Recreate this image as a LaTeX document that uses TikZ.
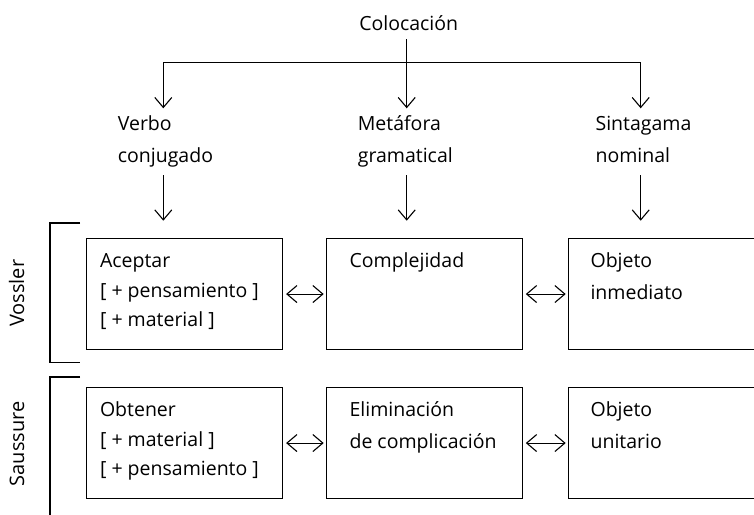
\documentclass[tikz,border=0pt]{standalone}
\usepackage{fontspec}
\setmainfont{Open Sans}
\usetikzlibrary{arrows.meta}
\begin{document}
\begin{tikzpicture}[x=1pt,y=-1pt,
  line width=1.1pt,
  txt/.style={anchor=base west, inner sep=0pt, font=\fontsize{19.5}{22}\selectfont},
  box/.style={draw, minimum width=196pt, minimum height=111.6pt, inner sep=0pt, anchor=north west},
  arr/.style={-{Straight Barb[length=10pt,width=17pt]}},
  darr/.style={{Straight Barb[length=10pt,width=17pt]}-{Straight Barb[length=10pt,width=17pt]}, shorten <=3pt, shorten >=2pt},
  side/.style={rotate=90, anchor=base, inner sep=0pt, font=\fontsize{20}{22}\selectfont}
]
\useasboundingbox (0,0) rectangle (754,514);

% top
\node[txt, anchor=base] (col) at (408.7,30.7) {Colocación};
\coordinate (colbot) at (406.7,39.3);
\coordinate (jl) at (163.3,62.7);
\coordinate (jr) at (640.7,62.7);
\coordinate (t1) at (163.3,108.3);
\coordinate (t2) at (406.7,108.3);
\coordinate (t3) at (640.7,108.3);
\draw (jl) -- (jr);
\draw[arr] (jl) -- (t1);
\draw[arr] (colbot) -- (t2);
\draw[arr] (jr) -- (t3);

% category labels
\node[txt] (v1) at (117.3,130.7) {Verbo};
\node[txt] (v2) at (117.3,162.7) {conjugado};
\node[txt] (m1) at (357.3,130.7) {Metáfora};
\node[txt] (m2) at (357.3,162.7) {gramatical};
\node[txt] (s1) at (595,130.7) {Sintagama};
\node[txt] (s2) at (595,162.7) {nominal};

\coordinate (u1) at (163.3,175);
\coordinate (u2) at (406.7,175);
\coordinate (u3) at (640.7,175);
\coordinate (d1) at (163.3,220.7);
\coordinate (d2) at (406.7,220.7);
\coordinate (d3) at (640.7,220.7);
\draw[arr] (u1) -- (d1);
\draw[arr] (u2) -- (d2);
\draw[arr] (u3) -- (d3);

% boxes
\node[box] (b11) at (86,237.7) {};
\node[box] (b12) at (325.7,237.7) {};
\node[box] (b13) at (567.7,237.7) {};
\node[box] (b21) at (86,386.7) {};
\node[box] (b22) at (325.7,386.7) {};
\node[box] (b23) at (567.7,386.7) {};

\draw[darr] (b11.east) -- (b12.west);
\draw[darr] (b12.east) -- (b13.west);
\draw[darr] (b21.east) -- (b22.west);
\draw[darr] (b22.east) -- (b23.west);

% box texts, top row
\node[txt] (a1) at (99.5,267.3) {Aceptar};
\node[txt] (a2) at (99.5,297.3) {[ + pensamiento ]};
\node[txt] (a3) at (99.5,326.8) {[ + material ]};
\node[txt] (c1) at (349,267.5) {Complejidad};
\node[txt] (o1) at (590,267.5) {Objeto};
\node[txt] (o2) at (590,299) {inmediato};

% box texts, bottom row
\node[txt] (a4) at (99.5,416.5) {Obtener};
\node[txt] (a5) at (99.5,446.3) {[ + material ]};
\node[txt] (a6) at (99.5,475.8) {[ + pensamiento ]};
\node[txt] (e1) at (349,416.5) {Eliminación};
\node[txt] (e2) at (349,448) {de complicación};
\node[txt] (o3) at (590,416.5) {Objeto};
\node[txt] (o4) at (590,448) {unitario};

% brackets
\draw (80,223) -- (50,223) -- (50,362.7) -- (80,362.7);
\draw (80,377) -- (50,377) -- (50,520);
\node[side] (vos) at (24,293.3) {Vossler};
\node[side] (sau) at (24,444) {Saussure};
\end{tikzpicture}
\end{document}
